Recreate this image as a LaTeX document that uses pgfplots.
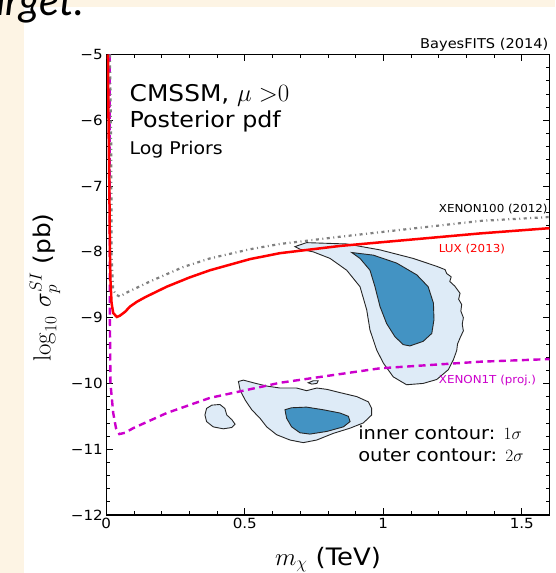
\documentclass[border=0pt]{standalone}
\usepackage{pgfplots}
\pgfplotsset{compat=1.18}
\usepackage[no-math]{fontspec}
\setmainfont{DejaVu Sans}[FakeStretch=1.08]
\newfontfamily\slidefont{Lato}
\definecolor{beige}{RGB}{253,244,228}
\definecolor{outerblue}{RGB}{222,235,247}
\definecolor{innerblue}{RGB}{67,147,195}
\definecolor{xmag}{RGB}{204,0,204}
\definecolor{xgray}{RGB}{128,128,128}
\begin{document}
\begin{tikzpicture}[x=1pt,y=1pt]
\useasboundingbox (0,0) rectangle (555,573);
\begin{scope}
\clip (0,0) rectangle (555,573);
\fill[beige] (0,0) rectangle (555,573);
\fill[white] (24,0) rectangle (555,566);
\node[anchor=base west, inner sep=0, font=\slidefont\itshape\fontsize{42}{42}\selectfont] at (-16,557) {arget.};
\end{scope}
\begin{axis}[
  at={(106.3pt,58pt)}, anchor=south west,
  scale only axis, width=443.2pt, height=460.5pt,
  xmin=0, xmax=1.6, ymin=-12, ymax=-5,
  xtick={0,0.5,1,1.5}, xticklabels={0,0.5,1,1.5},
  ytick={-12,-11,-10,-9,-8,-7,-6,-5},
  yticklabels={−12,−11,−10,−9,−8,−7,−6,−5},
  minor x tick num=4, minor y tick num=4,
  tick align=inside,
  major tick length=7pt, minor tick length=4pt,
  tick style={black, line width=0.8pt},
  axis line style={black, line width=1.2pt},
  ticklabel style={font=\fontsize{14}{16}\selectfont},
]
% --- 2 sigma (outer) contours
\addplot[fill=outerblue, draw=black!85, line width=0.9pt] coordinates {
(0.681,-7.92) (0.723,-7.86) (0.868,-7.88) (0.988,-7.97) (1.108,-8.10) (1.193,-8.22) (1.223,-8.27)
(1.229,-8.33) (1.245,-8.38) (1.240,-8.45) (1.258,-8.52) (1.277,-8.63) (1.272,-8.72) (1.283,-8.80)
(1.280,-8.90) (1.289,-9.00) (1.285,-9.10) (1.289,-9.20) (1.278,-9.30) (1.268,-9.40) (1.265,-9.50)
(1.253,-9.64) (1.235,-9.79) (1.193,-9.94) (1.144,-10.00) (1.084,-10.02) (1.036,-9.90) (1.000,-9.69)
(0.976,-9.49) (0.952,-9.19) (0.940,-8.88) (0.916,-8.53) (0.868,-8.28) (0.808,-8.10) (0.747,-8.00)
(0.699,-7.96)
} -- cycle;
\addplot[fill=outerblue, draw=black!85, line width=0.9pt] coordinates {
(0.477,-9.97) (0.495,-9.95) (0.531,-9.99) (0.579,-10.04) (0.627,-10.07) (0.687,-10.07) (0.723,-10.11)
(0.760,-10.07) (0.796,-10.09) (0.844,-10.14) (0.904,-10.20) (0.946,-10.28) (0.958,-10.38) (0.958,-10.48)
(0.928,-10.60) (0.880,-10.68) (0.819,-10.76) (0.760,-10.86) (0.711,-10.90) (0.663,-10.86) (0.615,-10.78)
(0.579,-10.66) (0.555,-10.53) (0.525,-10.40) (0.501,-10.25) (0.483,-10.10)
} -- cycle;
\addplot[fill=outerblue, draw=black!85, line width=0.9pt] coordinates {
(0.362,-10.38) (0.381,-10.33) (0.410,-10.32) (0.428,-10.38) (0.435,-10.48) (0.453,-10.55) (0.465,-10.62)
(0.453,-10.67) (0.422,-10.69) (0.386,-10.66) (0.362,-10.58) (0.356,-10.48)
} -- cycle;
\addplot[fill=outerblue, draw=black!85, line width=0.9pt] coordinates {
(0.729,-9.99) (0.747,-9.96) (0.765,-9.96) (0.760,-10.00) (0.742,-10.01)
} -- cycle;
% --- 1 sigma (inner) contours
\addplot[fill=innerblue, draw=black!85, line width=0.9pt] coordinates {
(0.886,-8.01) (0.964,-8.05) (1.048,-8.17) (1.121,-8.35) (1.162,-8.53) (1.181,-8.78) (1.183,-9.03)
(1.175,-9.24) (1.144,-9.36) (1.096,-9.43) (1.072,-9.41) (1.042,-9.29) (1.012,-9.09) (0.988,-8.83)
(0.970,-8.53) (0.952,-8.28) (0.916,-8.10)
} -- cycle;
\addplot[fill=innerblue, draw=black!85, line width=0.9pt] coordinates {
(0.645,-10.40) (0.669,-10.37) (0.723,-10.36) (0.783,-10.40) (0.844,-10.45) (0.874,-10.50) (0.880,-10.58)
(0.856,-10.66) (0.796,-10.73) (0.735,-10.77) (0.699,-10.75) (0.669,-10.66) (0.651,-10.53)
} -- cycle;
% --- XENON1T (projected)
\addplot[xmag, line width=2.4pt, dash pattern=on 7pt off 4.5pt] coordinates {
(0.012,-5) (0.013,-9.03) (0.015,-10.0) (0.025,-10.45) (0.035,-10.68) (0.047,-10.77) (0.068,-10.75)
(0.097,-10.68) (0.218,-10.45) (0.374,-10.22) (0.495,-10.11) (0.627,-9.99) (0.988,-9.77) (1.349,-9.67) (1.6,-9.63)
};
% --- XENON100 (2012)
\addplot[xgray, line width=2.2pt, dash pattern=on 3pt off 3.5pt on 1pt off 3.5pt] coordinates {
(0.013,-5) (0.018,-6.45) (0.019,-8.07) (0.025,-8.58) (0.035,-8.65) (0.049,-8.68) (0.068,-8.63)
(0.158,-8.45) (0.278,-8.23) (0.374,-8.10) (0.519,-7.96) (0.627,-7.88) (0.844,-7.77) (1.349,-7.53) (1.6,-7.47)
};
% --- LUX (2013)
\addplot[red, line width=2.5pt] coordinates {
(0.006,-5) (0.008,-6.0) (0.011,-7.0) (0.013,-8.0) (0.015,-8.43) (0.019,-8.78) (0.025,-8.93) (0.038,-8.99)
(0.049,-8.97) (0.068,-8.91) (0.086,-8.83) (0.110,-8.76) (0.140,-8.69) (0.218,-8.53) (0.300,-8.39) (0.374,-8.28) (0.519,-8.11)
(0.627,-8.02) (0.844,-7.91) (1.349,-7.72) (1.6,-7.64)
};
\node[anchor=west, inner sep=0, font=\fontsize{11}{13}\selectfont] at (axis cs:1.2,-7.35) {XENON100 (2012)};
\node[anchor=west, inner sep=0, text=red, font=\fontsize{11}{13}\selectfont] at (axis cs:1.2,-7.95) {LUX (2013)};
\node[anchor=west, inner sep=0, text=xmag, font=\fontsize{11}{13}\selectfont] at (axis cs:1.2,-9.95) {XENON1T (proj.)};
\node[anchor=west, inner sep=0, font=\fontsize{18}{22}\selectfont] at (axis cs:0.909,-10.75) {inner contour: $1\sigma$};
\node[anchor=west, inner sep=0, font=\fontsize{18}{22}\selectfont] at (axis cs:0.909,-11.09) {outer contour: $2\sigma$};
\end{axis}
\node[anchor=base west, inner sep=0, font=\fontsize{23}{26}\selectfont] at (129.5,471.3) {CMSSM, $\mu\;{>}0$};
\node[anchor=base west, inner sep=0, font=\fontsize{22}{26}\selectfont] at (129.5,445.7) {Posterior pdf};
\node[anchor=base west, inner sep=0, font=\fontsize{17.5}{20}\selectfont] at (129.5,418) {Log Priors};
\node[anchor=base east, inner sep=0, font=\fontsize{13.5}{16}\selectfont] at (548.5,524.5) {BayesFITS (2014)};
\node[rotate=90, inner sep=0, font=\fontsize{23}{26}\selectfont] at (45,285.5) {$\log_{10}\,\sigma_p^{SI}$ (pb)};
\node[anchor=base, inner sep=0, font=\fontsize{24}{28}\selectfont] at (328,8) {$m_\chi$ (TeV)};
\end{tikzpicture}
\end{document}
